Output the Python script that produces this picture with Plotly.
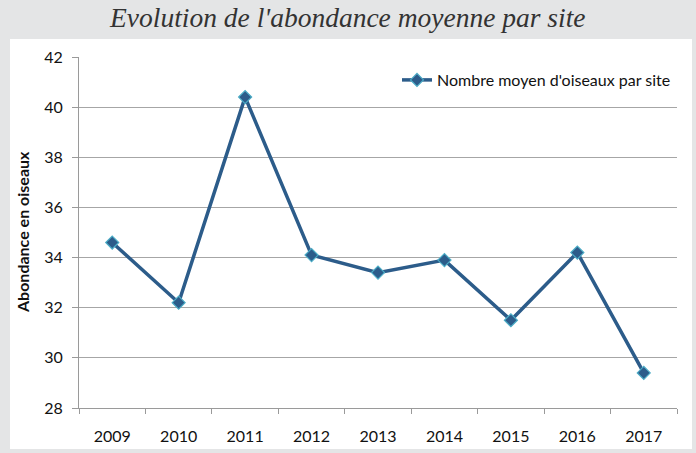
import plotly.graph_objects as go

years = ["2009", "2010", "2011", "2012", "2013", "2014", "2015", "2016", "2017"]
abondance = [34.6, 32.2, 40.4, 34.1, 33.4, 33.9, 31.5, 34.2, 29.4]
y_ticks = [28, 30, 32, 34, 36, 38, 40, 42]

title_text = "Evolution de l'abondance moyenne par site"
series_name = "Nombre moyen d'oiseaux par site"
y_title = "Abondance en oiseaux"

fig = go.Figure()
fig.add_trace(go.Scatter(
    x=years, y=abondance, name=series_name, mode="lines+markers",
    line=dict(color="#2C5C8A", width=3.5),
    marker=dict(symbol="diamond", size=10, color="#2C5C8A",
                line=dict(color="#4BACC6", width=1.2)),
))

L, R, T, B = 79, 19, 57, 45
W, H = 696, 453
pw, ph = W - L - R, H - T - B

def px_x(x):
    return (x - L) / pw

def px_y(y):
    return (H - B - y) / ph

fig.add_shape(type="rect", xref="paper", yref="paper",
              x0=px_x(10), x1=px_x(692), y0=px_y(449), y1=px_y(39),
              fillcolor="white", line=dict(width=0), layer="below")

fig.update_layout(
    width=W, height=H,
    margin=dict(l=L, r=R, t=T, b=B),
    paper_bgcolor="#E4E5E6",
    plot_bgcolor="white",
    font=dict(family="Lato, 'Open Sans', sans-serif", size=16, color="#222222"),
    showlegend=True,
    legend=dict(x=px_x(676), y=px_y(80), xanchor="right", yanchor="middle",
                bgcolor="rgba(0,0,0,0)", font=dict(size=16, color="#111111"),
                itemwidth=30),
    annotations=[
        dict(text=title_text, xref="paper", yref="paper",
             x=px_x(347), y=px_y(18), xanchor="center", yanchor="middle",
             showarrow=False,
             font=dict(family="'Liberation Serif', serif", size=27.5,
                       color="#333333", style="italic")),
        dict(text="<b>" + y_title + "</b>", xref="paper", yref="paper",
             x=px_x(22), y=px_y(232), xanchor="center", yanchor="middle",
             textangle=-90, showarrow=False,
             font=dict(size=16, color="#111111")),
    ],
)

fig.update_xaxes(
    type="category", range=[-0.5, 8.5], automargin=False,
    showline=True, linecolor="#9A9A9A", linewidth=1,
    ticks="outside", tickson="boundaries", ticklen=5, tickcolor="#9A9A9A",
    ticklabelstandoff=14,
    showgrid=False, tickfont=dict(size=16, color="#111111"),
)
fig.update_yaxes(
    range=[28, 42], tickvals=y_ticks, automargin=False,
    showline=True, linecolor="#9A9A9A", linewidth=1,
    ticks="outside", ticklen=6, tickcolor="#9A9A9A",
    ticklabelstandoff=6,
    showgrid=True, gridcolor="#A6A6A6", gridwidth=1,
    zeroline=False, tickfont=dict(size=16, color="#111111"),
)

fig.write_html("out.html", config={"displayModeBar": False},
               post_script="document.body.style.margin='0';")
